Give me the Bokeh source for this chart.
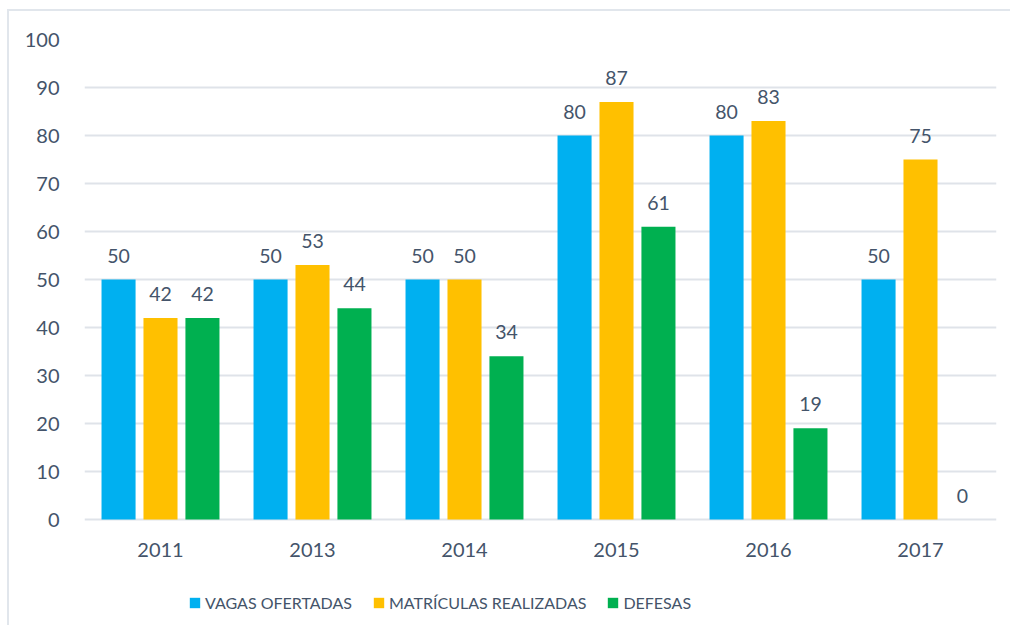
from bokeh.plotting import figure
from bokeh.models import ColumnDataSource, FactorRange, Range1d, Legend, LegendItem, LabelSet
from bokeh.core.properties import value
from bokeh.transform import dodge
from bokeh.embed import file_html
from bokeh.resources import INLINE

years = ["2011", "2013", "2014", "2015", "2016", "2017"]
vagas = [50, 50, 50, 80, 80, 50]
matriculas = [42, 53, 50, 87, 83, 75]
defesas = [42, 44, 34, 61, 19, 0]
series_names = ["VAGAS OFERTADAS", "MATRÍCULAS REALIZADAS", "DEFESAS"]
colors = ["#00B0F0", "#FFC000", "#00B050"]
yticks = [0, 10, 20, 30, 40, 50, 60, 70, 80, 90, 100]

FONT = "Lato"
TXT = "#44546A"
GRID = "#DFE3E9"

src = ColumnDataSource(dict(
    x=years, v=vagas, m=matriculas, d=defesas, zero=[0] * len(years),
    vl=[str(a) for a in vagas], ml=[str(a) for a in matriculas], dl=[str(a) for a in defesas],
))

# frame extends below zero so the category labels and legend fit inside it
p = figure(x_range=FactorRange(factors=years, range_padding=0), y_range=Range1d(-22.5, 100),
           width=1003, height=616, output_backend="svg", toolbar_location=None,
           min_border_left=75, min_border_right=16, min_border_top=28, min_border_bottom=0)
p.styles = {"border-left": "2px solid #E1E6EC", "border-top": "2px solid #E1E6EC",
            "margin-left": "7px", "margin-top": "9px"}
p.outline_line_color = None
p.background_fill_color = "white"
p.border_fill_color = "white"
p.xaxis.visible = False

w = 0.224
off = 0.276
renderers = []
for key, lab, dx, col in [("v", "vl", -off, colors[0]), ("m", "ml", 0.0, colors[1]), ("d", "dl", off, colors[2])]:
    r = p.vbar(x=dodge("x", dx, range=p.x_range), top=key, bottom=0, width=w, source=src,
               fill_color=col, line_color=None)
    renderers.append(r)
    ls = LabelSet(x=dodge("x", dx, range=p.x_range), y=key, text=lab, source=src,
                  text_align="center", text_baseline="bottom", y_offset=17,
                  text_font=value(FONT), text_font_size="19.5px", text_color=TXT)
    p.add_layout(ls)

# category labels
cat = LabelSet(x="x", y="zero", text="x", source=src, text_align="center", text_baseline="middle",
               y_offset=-30, text_font=value(FONT), text_font_size="20px", text_color=TXT)
p.add_layout(cat)

p.yaxis.ticker = yticks
p.yaxis.axis_line_color = None
p.yaxis.major_tick_line_color = None
p.yaxis.minor_tick_line_color = None
p.yaxis.major_label_standoff = 19
p.yaxis.major_label_text_font = FONT
p.yaxis.major_label_text_font_size = "20px"
p.yaxis.major_label_text_color = TXT

p.xgrid.grid_line_color = None
p.ygrid.ticker = yticks
p.ygrid.grid_line_color = GRID
p.ygrid.grid_line_width = 2

legend = Legend(items=[LegendItem(label=n, renderers=[r]) for n, r in zip(series_names, renderers)],
                orientation="horizontal", location=(104, 15),
                glyph_width=13, glyph_height=13, label_standoff=4, spacing=20,
                label_text_font=FONT, label_text_font_size="16px", label_text_color=TXT,
                border_line_color=None, background_fill_alpha=0, padding=0, margin=0)
p.add_layout(legend, "center")

open("out.html", "w").write(file_html(p, INLINE))
